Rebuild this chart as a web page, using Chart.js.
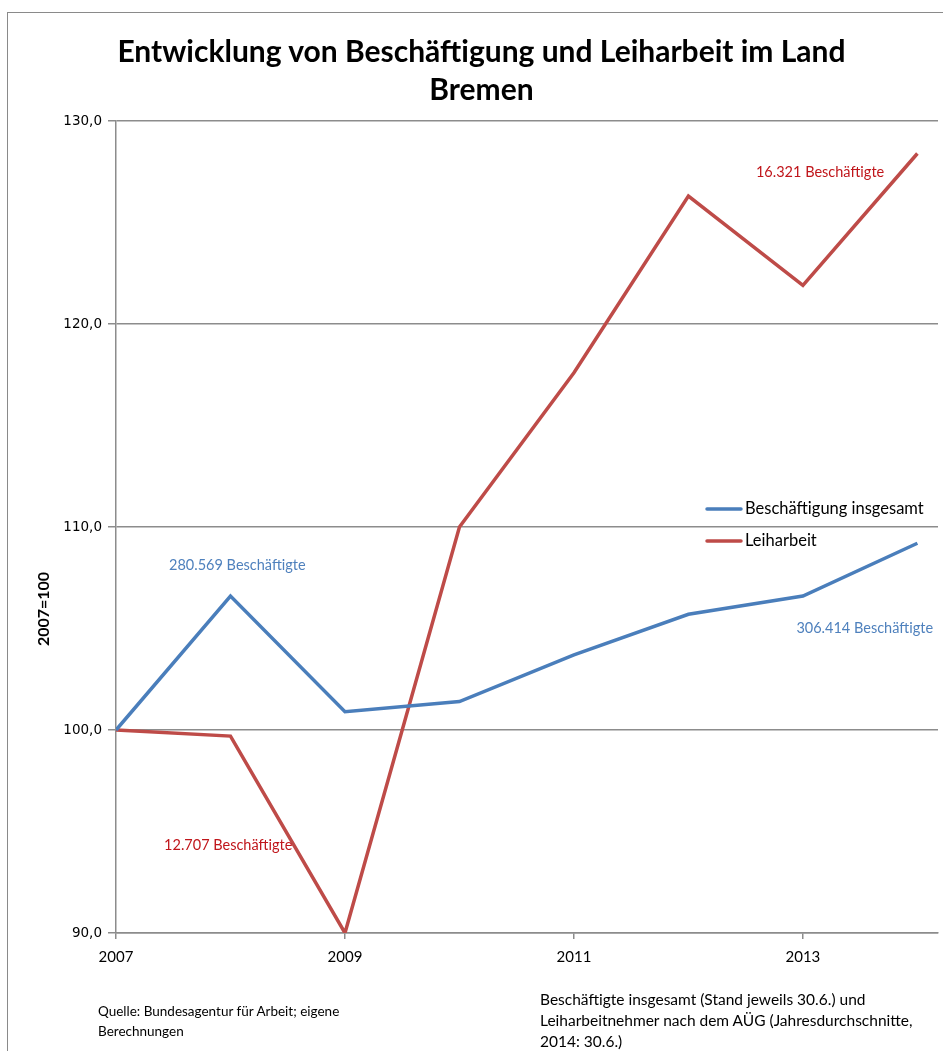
<!DOCTYPE html>
<html lang="de">
<head>
<meta charset="utf-8">
<title>Beschäftigung und Leiharbeit im Land Bremen</title>
<script src="https://cdn.jsdelivr.net/npm/chart.js@4/dist/chart.umd.min.js"></script>
<style>
    html, body {
        margin: 0;
        padding: 0;
        background: #fff;
        overflow: hidden;
    }
    #wrap {
        position: relative;
        width: 943px;
        height: 1051px;
    }
    #rahmen {
        position: absolute;
        left: 7px;
        top: 12px;
        width: 1000px;
        height: 1100px;
        border-left: 1.5px solid #8a8a8a;
        border-top: 1.5px solid #8a8a8a;
        pointer-events: none;
    }
    #titel {
        position: absolute;
        left: 0;
        top: 31px;
        width: 963px;
        text-align: center;
        font-family: Lato, "Open Sans", sans-serif;
        font-weight: bold;
        font-size: 30px;
        line-height: 38px;
        color: #000;
    }
    .fuss {
        position: absolute;
        font-family: Lato, "Open Sans", sans-serif;
        color: #000;
    }
</style>
</head>
<body>
<div id="wrap">
    <canvas id="chart" width="943" height="1051"></canvas>
    <div id="rahmen"></div>
    <div id="titel">Entwicklung von Beschäftigung und Leiharbeit im Land<br>Bremen</div>
    <div class="fuss" style="left:98px; top:1001px; font-size:13.5px; line-height:20px;">Quelle: Bundesagentur für Arbeit; eigene<br>Berechnungen</div>
    <div class="fuss" style="left:540px; top:989px; font-size:15.5px; line-height:21px;">Beschäftigte insgesamt (Stand jeweils 30.6.) und<br>Leiharbeitnehmer nach dem AÜG (Jahresdurchschnitte,<br>2014: 30.6.)</div>
</div>

<script>
// Jahre und Indexwerte (2007 = 100)
var jahre = [2007, 2008, 2009, 2010, 2011, 2012, 2013, 2014];
var beschaeftigungGesamt = [100.0, 106.6, 100.9, 101.4, 103.7, 105.7, 106.6, 109.2];
var leiharbeit = [100.0, 99.7, 90.0, 110.0, 117.6, 126.3, 121.9, 128.4];

// Absolute Zahlen fuer 2007 und 2014
var anzahlGesamt = [280569, 306414];
var anzahlLeiharbeit = [12707, 16321];

// Achsenbeschriftungen
var xTickJahre = [2007, 2009, 2011, 2013];
var yTicks = [90, 100, 110, 120, 130];

var BLAU = '#4a7ebb';
var ROT = '#be4b48';
var TEXT_BLAU = '#4f81bd';
var TEXT_ROT = '#c0161b';
var GRAU = '#8c8c8c';

// Tausenderpunkt wie im Deutschen
function tausender(n) {
    return String(n).replace(/\B(?=(\d{3})+(?!\d))/g, '.');
}

function punkte(werte) {
    return jahre.map(function(j, i) {
        return { x: j, y: werte[i] };
    });
}

// Beschriftungen, Legende und Achsentitel direkt auf den Canvas
var beschriftungPlugin = {
    id: 'beschriftung',
    afterDraw: function(chart) {
        var ctx = chart.ctx;
        var xs = chart.scales.x;
        var ys = chart.scales.y;
        var area = chart.chartArea;

        // Datenbeschriftungen (Position in Achsenkoordinaten)
        var labels = [
            { text: tausender(anzahlGesamt[0]) + ' Beschäftigte', x: 2008.06, y: 108.1, farbe: TEXT_BLAU },
            { text: tausender(anzahlLeiharbeit[0]) + ' Beschäftigte', x: 2007.98, y: 94.3, farbe: TEXT_ROT },
            { text: tausender(anzahlLeiharbeit[1]) + ' Beschäftigte', x: 2013.15, y: 127.45, farbe: TEXT_ROT },
            { text: tausender(anzahlGesamt[1]) + ' Beschäftigte', x: 2013.54, y: 105.0, farbe: TEXT_BLAU }
        ];
        ctx.save();
        ctx.font = '14.5px Lato, "Open Sans", sans-serif';
        ctx.textAlign = 'center';
        ctx.textBaseline = 'middle';
        labels.forEach(function(l) {
            ctx.fillStyle = l.farbe;
            ctx.fillText(l.text, xs.getPixelForValue(l.x), ys.getPixelForValue(l.y));
        });

        // Legende rechts in der Zeichenflaeche
        var eintraege = [
            { text: chart.data.datasets[0].label, farbe: BLAU },
            { text: chart.data.datasets[1].label, farbe: ROT }
        ];
        var lx = area.right - 233;
        var ly = 509;
        ctx.font = '16.5px Lato, "Open Sans", sans-serif';
        ctx.textAlign = 'left';
        eintraege.forEach(function(e, i) {
            var y = ly + i * 32;
            ctx.strokeStyle = e.farbe;
            ctx.lineWidth = 3.5;
            ctx.lineCap = 'round';
            ctx.beginPath();
            ctx.moveTo(lx + 2, y);
            ctx.lineTo(lx + 36, y);
            ctx.stroke();
            ctx.fillStyle = '#000';
            ctx.fillText(e.text, lx + 40, y);
        });

        // Titel der y-Achse
        ctx.translate(44, 609);
        ctx.rotate(-Math.PI / 2);
        ctx.font = 'bold 16px Lato, "Open Sans", sans-serif';
        ctx.textAlign = 'center';
        ctx.fillStyle = '#000';
        ctx.fillText('2007=100', 0, 0);
        ctx.restore();
    }
};

var ctx = document.getElementById('chart').getContext('2d');

new Chart(ctx, {
    type: 'line',
    data: {
        datasets: [{
            label: 'Beschäftigung insgesamt',
            data: punkte(beschaeftigungGesamt),
            borderColor: BLAU,
            borderWidth: 3.5,
            pointRadius: 0,
            tension: 0,
            fill: false
        }, {
            label: 'Leiharbeit',
            data: punkte(leiharbeit),
            borderColor: ROT,
            borderWidth: 3.5,
            pointRadius: 0,
            tension: 0,
            fill: false
        }]
    },
    options: {
        responsive: false,
        animation: false,
        devicePixelRatio: 1,
        layout: {
            padding: { top: 121, right: 5, bottom: 0, left: 0 }
        },
        plugins: {
            legend: { display: false },
            title: { display: false },
            tooltip: { enabled: false }
        },
        scales: {
            x: {
                type: 'linear',
                min: 2007,
                max: 2014.18,
                afterBuildTicks: function(scale) {
                    scale.ticks = xTickJahre.map(function(v) { return { value: v }; });
                },
                afterFit: function(scale) {
                    scale.height = 118;
                },
                grid: {
                    drawOnChartArea: false,
                    drawTicks: true,
                    tickLength: 6,
                    color: GRAU,
                    lineWidth: 1.5
                },
                border: { color: GRAU, width: 1.5 },
                ticks: {
                    padding: 9,
                    color: '#000',
                    font: { family: 'Lato, "Open Sans", sans-serif', size: 15 },
                    maxRotation: 0,
                    callback: function(v) { return String(v); }
                }
            },
            y: {
                min: 90,
                max: 130,
                afterBuildTicks: function(scale) {
                    scale.ticks = yTicks.map(function(v) { return { value: v }; });
                },
                afterFit: function(scale) {
                    scale.width = 116;
                },
                grid: {
                    color: GRAU,
                    lineWidth: 1.5,
                    tickLength: 8
                },
                border: { color: GRAU, width: 1.5 },
                ticks: {
                    padding: 6,
                    color: '#000',
                    font: { family: '"DejaVu Sans", sans-serif', size: 13.5 },
                    callback: function(v) { return v.toFixed(1).replace('.', ','); }
                }
            }
        }
    },
    plugins: [beschriftungPlugin]
});
</script>
</body>
</html>
